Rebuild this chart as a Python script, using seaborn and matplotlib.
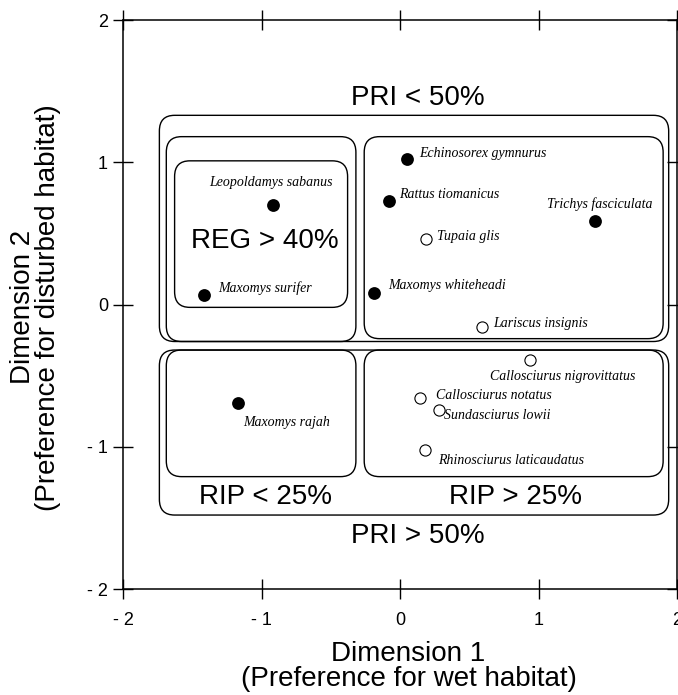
import pandas as pd
import seaborn as sns
import matplotlib.pyplot as plt
from matplotlib.patches import FancyBboxPatch

# species scores on the two dimensions
species = [
    "Leopoldamys sabanus", "Maxomys surifer", "Echinosorex gymnurus",
    "Rattus tiomanicus", "Trichys fasciculata", "Maxomys whiteheadi",
    "Maxomys rajah", "Tupaia glis", "Lariscus insignis",
    "Callosciurus nigrovittatus", "Callosciurus notatus",
    "Sundasciurus lowii", "Rhinosciurus laticaudatus",
]
dim1 = [-0.92, -1.42, 0.05, -0.08, 1.41, -0.19, -1.17, 0.19, 0.59, 0.94, 0.14, 0.28, 0.18]
dim2 = [0.70, 0.07, 1.02, 0.73, 0.59, 0.08, -0.69, 0.46, -0.16, -0.39, -0.66, -0.74, -1.02]
status = ["filled"] * 7 + ["open"] * 6

# grouping boxes: (x0, y0, x1, y1)
box_pri_low = (-1.74, -0.26, 1.94, 1.33)
box_upper_left = (-1.69, -0.26, -0.32, 1.18)
box_reg = (-1.63, -0.02, -0.38, 1.01)
box_upper_right = (-0.26, -0.24, 1.90, 1.18)
box_pri_high = (-1.74, -1.48, 1.94, -0.32)
box_rip_low = (-1.69, -1.21, -0.32, -0.32)
box_rip_high = (-0.26, -1.21, 1.90, -0.32)
boxes = [box_pri_low, box_upper_left, box_reg, box_upper_right,
         box_pri_high, box_rip_low, box_rip_high]

region_labels = ["PRI < 50%", "REG > 40%", "RIP < 25%", "RIP > 25%", "PRI > 50%"]
region_x = [0.13, -0.98, -0.97, 0.83, 0.13]
region_y = [1.45, 0.45, -1.35, -1.35, -1.63]

ticks = [-2, -1, 0, 1, 2]
tick_labels = ["- 2", "- 1", "0", "1", "2"]

# label placement (pixels from the point, alignment)
label_offsets = {
    "Leopoldamys sabanus": (-2, 22, "center"),
    "Maxomys surifer": (14, 6, "left"),
    "Echinosorex gymnurus": (12, 6, "left"),
    "Rattus tiomanicus": (10, 6, "left"),
    "Trichys fasciculata": (4, 16, "center"),
    "Maxomys whiteheadi": (14, 8, "left"),
    "Maxomys rajah": (5, -20, "left"),
    "Tupaia glis": (11, 3, "left"),
    "Lariscus insignis": (11, 4, "left"),
    "Callosciurus nigrovittatus": (-40, -17, "left"),
    "Callosciurus notatus": (16, 3, "left"),
    "Sundasciurus lowii": (5, -6, "left"),
    "Rhinosciurus laticaudatus": (13, -11, "left"),
}

df = pd.DataFrame({"species": species, "dim1": dim1, "dim2": dim2, "status": status})

sns.set_style("ticks")
plt.rcParams["font.family"] = ["Liberation Sans", "DejaVu Sans"]
plt.rcParams["text.color"] = "black"
plt.rcParams["axes.labelcolor"] = "black"

fig = plt.figure(figsize=(6.78, 6.95), dpi=100)
ax = fig.add_axes([0.182, 0.1525, 0.8165, 0.8187])

for x0, y0, x1, y1 in boxes:
    ax.add_patch(FancyBboxPatch((x0, y0), x1 - x0, y1 - y0,
                                boxstyle="round,pad=0,rounding_size=0.11",
                                fc="none", ec="black", lw=1.0, zorder=1))

sns.scatterplot(data=df[df["status"] == "filled"], x="dim1", y="dim2",
                color="black", edgecolor="black", s=85, linewidth=0, ax=ax, zorder=3)
sns.scatterplot(data=df[df["status"] == "open"], x="dim1", y="dim2",
                facecolor="white", edgecolor="black", s=65, linewidth=0.8, ax=ax, zorder=3)

for _, row in df.iterrows():
    dx, dy, ha = label_offsets[row["species"]]
    ax.annotate(row["species"], (row["dim1"], row["dim2"]), xytext=(dx, dy),
                textcoords="offset pixels", ha=ha, va="center", fontsize=10,
                fontstyle="italic", color="black",
                family=["Liberation Serif", "DejaVu Serif"])

for lab, x, y in zip(region_labels, region_x, region_y):
    ax.text(x, y, lab, ha="center", va="center", fontsize=20, color="black")

ax.set_xlim(-2, 2)
ax.set_ylim(-2, 2)
ax.set_xticks(ticks)
ax.set_xticklabels(tick_labels)
ax.set_yticks(ticks)
ax.set_yticklabels(tick_labels)
ax.tick_params(axis="both", direction="inout", length=15, width=1.0,
               labelsize=13, colors="black", top=True, right=True)
ax.tick_params(axis="x", pad=9)
ax.tick_params(axis="y", pad=3.5)
for sp in ax.spines.values():
    sp.set_linewidth(1.1)
    sp.set_color("black")

ax.set_xlabel("Dimension 1\n(Preference for wet habitat)", fontsize=20,
              linespacing=0.95, va="center", ha="center", color="black")
ax.xaxis.set_label_coords(0.515, -0.137)
ax.set_ylabel("Dimension 2\n(Preference for disturbed habitat)", fontsize=20,
              linespacing=0.95, va="center", ha="center", color="black")
ax.yaxis.set_label_coords(-0.158, 0.495)

fig.savefig("out.png", dpi=100)
